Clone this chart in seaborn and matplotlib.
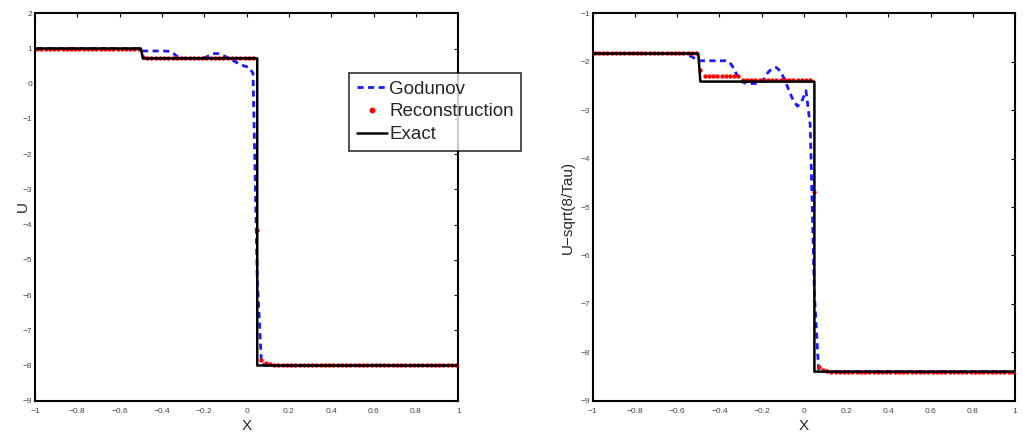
import numpy as np
import pandas as pd
import matplotlib
matplotlib.use("Agg")
import matplotlib.pyplot as plt
from matplotlib.lines import Line2D
import seaborn as sns

# ---------------- data ----------------
# cell centres of the 100-cell grid on [-1, 1]
x_cells = np.round(np.arange(-0.99, 1.0, 0.02), 2)

# left panel: U
u_godunov = ([1.0] * 25 + [0.93] * 6 + [0.92, 0.88, 0.78, 0.73] + [0.72] * 5 +
             [0.76, 0.82, 0.86, 0.85, 0.80, 0.74, 0.68, 0.61, 0.55, 0.50, 0.47, 0.30, -5.5, -7.95] +
             [-8.0] * 46)
u_recon = ([1.0] * 25 + [0.75] + [0.72] * 26 + [-4.15] + [-7.85, -7.92, -7.96] + [-8.0] * 44)
exact_x = [-1.0, -0.5, -0.49, 0.05, 0.05, 1.0]
u_exact = [1.0, 1.0, 0.72, 0.72, -8.0, -8.0]

# right panel: U - sqrt(8/Tau)
w_godunov = ([-1.83] * 22 + [-1.86, -1.9, -1.95] + [-1.98] * 7 + [-2.02, -2.15, -2.35, -2.42] +
             [-2.45] * 4 +
             [-2.36, -2.22, -2.14, -2.12, -2.2, -2.38, -2.6, -2.8, -2.92, -2.82, -2.6, -3.3, -6.8, -8.38] +
             [-8.4] * 46)
w_recon = ([-1.83] * 25 + [-2.18] + [-2.30] * 9 + [-2.38] * 17 + [-4.7] + [-8.3, -8.36, -8.38] +
           [-8.4] * 44)
w_exact = [-1.83, -1.83, -2.41, -2.41, -8.4, -8.4]

x_ticks = [-1, -0.8, -0.6, -0.4, -0.2, 0, 0.2, 0.4, 0.6, 0.8, 1]
x_tick_labels = ["\u22121", "\u22120.8", "\u22120.6", "\u22120.4", "\u22120.2", "0",
                 "0.2", "0.4", "0.6", "0.8", "1"]
left_yticks = [-9, -8, -7, -6, -5, -4, -3, -2, -1, 0, 1, 2]
right_yticks = [-9, -8, -7, -6, -5, -4, -3, -2, -1]

# ---------------- style ----------------
sns.set_style("white")
plt.rcParams["font.family"] = ["Liberation Sans", "DejaVu Sans"]

W, H = 1023, 444
fig = plt.figure(figsize=(W / 100, H / 100), dpi=100)
bottom = 1 - 400.7 / H
height = (400.7 - 13.3) / H
ax1 = fig.add_axes([35 / W, bottom, (458.3 - 35) / W, height])
ax2 = fig.add_axes([592.7 / W, bottom, (1015 - 592.7) / W, height])

BLUE = "#1a1aff"
DASH = (0, (2.2, 1.6))


def draw(ax, god, rec, exa, yticks, ylabel, ylabelpad):
    df_g = pd.DataFrame({"x": x_cells, "y": god})
    df_r = pd.DataFrame({"x": x_cells, "y": rec})
    df_e = pd.DataFrame({"x": exact_x, "y": exa})
    sns.lineplot(data=df_g, x="x", y="y", ax=ax, color=BLUE, linewidth=2.0,
                 linestyle=DASH, estimator=None, sort=False)
    sns.scatterplot(data=df_r, x="x", y="y", ax=ax, color="#ff0000", marker="o",
                    s=10, linewidth=0, zorder=3)
    sns.lineplot(data=df_e, x="x", y="y", ax=ax, color="black", linewidth=1.8,
                 estimator=None, sort=False, zorder=4)
    ax.set_xlim(-1, 1)
    ax.set_ylim(yticks[0], yticks[-1])
    ax.set_xticks(x_ticks)
    ax.set_xticklabels(x_tick_labels)
    ax.set_yticks(yticks)
    ax.set_yticklabels([("\u2212" + str(-t)) if t < 0 else str(t) for t in yticks])
    ax.tick_params(direction="in", length=3, width=0.8, labelsize=6, colors="black",
                   labelcolor="#444444", top=True, right=True)
    ax.tick_params(axis="x", pad=5)
    ax.tick_params(axis="y", pad=2)
    for s in ax.spines.values():
        s.set_visible(True)
        s.set_color("black")
        s.set_linewidth(1.5)
    ax.set_xlabel("X", fontsize=11, labelpad=3)
    ax.set_ylabel(ylabel, fontsize=11, labelpad=ylabelpad)


draw(ax1, u_godunov, u_recon, u_exact, left_yticks, "U", -5)
draw(ax2, w_godunov, w_recon, w_exact, right_yticks, "U\u2212sqrt(8/Tau)", 4)

handles = [
    Line2D([], [], color=BLUE, linewidth=2.0, linestyle=DASH),
    Line2D([], [], color="#ff0000", marker="o", markersize=3.2, linestyle="none"),
    Line2D([], [], color="black", linewidth=1.8),
]
leg = fig.legend(handles, ["Godunov", "Reconstruction", "Exact"],
                 loc="upper left", bbox_to_anchor=(349 / W, 1 - 73 / H),
                 borderaxespad=0, frameon=True, fancybox=False, fontsize=13.5,
                 handlelength=1.6, handletextpad=0.15, borderpad=0.4,
                 labelspacing=0.3)
leg.get_frame().set_edgecolor("black")
leg.get_frame().set_linewidth(1.2)

fig.savefig("out.png", dpi=100)
